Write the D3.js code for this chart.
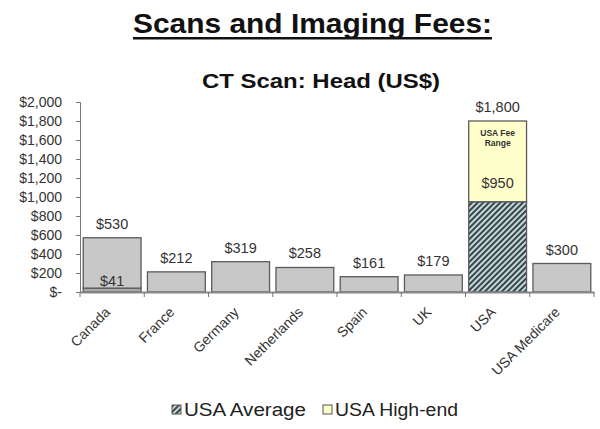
<!DOCTYPE html>
<html>
<head>
<meta charset="utf-8">
<script src="https://cdn.jsdelivr.net/npm/d3@7"></script>
<style>
  body { margin: 0; background: #fff; }
  svg { font-family: Arial, "Liberation Sans", sans-serif; }
</style>
</head>
<body>
<svg id="chart" width="600" height="429"></svg>
<script>
var categories = ["Canada", "France", "Germany", "Netherlands", "Spain", "UK", "USA", "USA Medicare"];
// lower segment of each bar
var baseValues = [41, 212, 319, 258, 161, 179, 950, 300];
// segment stacked on top (Canada range, USA high-end)
var upperValues = [530, 0, 0, 0, 0, 0, 850, 0];
// number printed above each bar
var topLabels = [530, 212, 319, 258, 161, 179, 1800, 300];
var yTicks = [0, 200, 400, 600, 800, 1000, 1200, 1400, 1600, 1800, 2000];
var legendNames = ["USA Average", "USA High-end"];

var svg = d3.select("#chart");

var x = d3.scaleBand()
    .domain(categories)
    .range([80, 594])
    .paddingInner(0.1)
    .paddingOuter(0.05);

var y = d3.scaleLinear()
    .domain([0, 2000])
    .range([292, 102]);

var money = function(v) { return v === 0 ? "$-" : "$" + d3.format(",")(v); };

// hatch pattern for USA average
var defs = svg.append("defs");
var pat = defs.append("pattern")
    .attr("id", "hatch")
    .attr("patternUnits", "userSpaceOnUse")
    .attr("width", 4).attr("height", 4)
    .attr("patternTransform", "rotate(45)");
pat.append("rect").attr("width", 4).attr("height", 4).attr("fill", "#c9d6d6");
pat.append("rect").attr("width", 2).attr("height", 4).attr("fill", "#34474d");

// titles (source image is a bit stretched sideways, so fix the text width)
svg.append("text")
    .attr("x", 133).attr("y", 33)
    .attr("font-size", 28).attr("font-weight", "bold")
    .attr("textLength", 359).attr("lengthAdjust", "spacingAndGlyphs")
    .attr("fill", "#111")
    .text("Scans and Imaging Fees:");
svg.append("rect")
    .attr("x", 133).attr("y", 37).attr("width", 359).attr("height", 2.5)
    .attr("fill", "#111");

svg.append("text")
    .attr("x", 202).attr("y", 88)
    .attr("font-size", 20).attr("font-weight", "bold")
    .attr("textLength", 238).attr("lengthAdjust", "spacingAndGlyphs")
    .attr("fill", "#111")
    .text("CT Scan: Head (US$)");

// y axis
var yAxis = svg.append("g")
    .attr("transform", "translate(80,0)")
    .call(d3.axisLeft(y).tickValues(yTicks).tickFormat(money).tickSize(4).tickPadding(14));
yAxis.select(".domain").attr("stroke", "#777");
yAxis.selectAll(".tick line").attr("stroke", "#777");
yAxis.selectAll(".tick text")
    .attr("font-size", 14).attr("fill", "#333")
    .attr("font-family", "Arial, 'Liberation Sans', sans-serif");

// bars
var idx = d3.range(categories.length);

svg.append("g").selectAll("rect")
    .data(idx)
    .join("rect")
    .attr("x", function(i) { return x(categories[i]); })
    .attr("width", x.bandwidth())
    .attr("y", function(i) { return y(baseValues[i]); })
    .attr("height", function(i) { return y(0) - y(baseValues[i]); })
    .attr("fill", function(i) {
        if (categories[i] === "USA") return "url(#hatch)";
        if (upperValues[i] > 0) return "#a9a9a9";
        return "#c8c8c8";
    })
    .attr("stroke", "#5a5a5a").attr("stroke-width", 1.3);

svg.append("g").selectAll("rect")
    .data(idx.filter(function(i) { return upperValues[i] > 0; }))
    .join("rect")
    .attr("x", function(i) { return x(categories[i]); })
    .attr("width", x.bandwidth())
    .attr("y", function(i) { return y(baseValues[i] + upperValues[i]); })
    .attr("height", function(i) { return y(baseValues[i]) - y(baseValues[i] + upperValues[i]); })
    .attr("fill", function(i) { return categories[i] === "USA" ? "#ffffcc" : "#c8c8c8"; })
    .attr("stroke", "#5a5a5a").attr("stroke-width", 1.3);

// x axis
var xAxis = svg.append("g")
    .attr("transform", "translate(0,292)")
    .call(d3.axisBottom(x).tickSize(0).tickFormat(""));
xAxis.select(".domain").attr("stroke", "#888").attr("stroke-width", 2);
svg.append("g").selectAll("line")
    .data(d3.range(categories.length + 1))
    .join("line")
    .attr("x1", function(i) { return x.range()[0] + i * x.step(); })
    .attr("x2", function(i) { return x.range()[0] + i * x.step(); })
    .attr("y1", 292).attr("y2", 297)
    .attr("stroke", "#777");

svg.append("g").selectAll("text")
    .data(categories)
    .join("text")
    .attr("transform", function(d) {
        return "translate(" + (x(d) + x.bandwidth() / 2 - 1) + ",313) rotate(-45)";
    })
    .attr("text-anchor", "end")
    .attr("font-size", 14).attr("fill", "#333")
    .text(function(d) { return d; });

// value labels
svg.append("g").selectAll("text")
    .data(idx)
    .join("text")
    .attr("x", function(i) { return x(categories[i]) + x.bandwidth() / 2; })
    .attr("y", function(i) { return y(baseValues[i] + upperValues[i]) - 9; })
    .attr("text-anchor", "middle")
    .attr("font-size", 14.5).attr("fill", "#333")
    .text(function(i) { return money(topLabels[i]); });

// inner labels
var cx = function(name) { return x(name) + x.bandwidth() / 2; };
var canadaIdx = categories.indexOf("Canada");
var usaIdx = categories.indexOf("USA");

svg.append("text")
    .attr("x", cx("Canada")).attr("y", y(baseValues[canadaIdx]) - 2)
    .attr("text-anchor", "middle")
    .attr("font-size", 14.5).attr("fill", "#333")
    .text(money(baseValues[canadaIdx]));

svg.append("text")
    .attr("x", cx("USA")).attr("y", y(baseValues[usaIdx]) - 14)
    .attr("text-anchor", "middle")
    .attr("font-size", 14.5).attr("fill", "#333")
    .text(money(baseValues[usaIdx]));

svg.append("text")
    .attr("x", cx("USA")).attr("y", y(baseValues[usaIdx] + upperValues[usaIdx]) + 15)
    .attr("text-anchor", "middle")
    .attr("font-size", 8.5).attr("font-weight", "bold").attr("fill", "#333")
    .text("USA Fee");
svg.append("text")
    .attr("x", cx("USA")).attr("y", y(baseValues[usaIdx] + upperValues[usaIdx]) + 25)
    .attr("text-anchor", "middle")
    .attr("font-size", 8.5).attr("font-weight", "bold").attr("fill", "#333")
    .text("Range");

// legend
var legendX = [172, 323];
var legendLen = [122, 123];
var legendFill = ["url(#hatch)", "#ffffcc"];
var lg = svg.append("g").selectAll("g")
    .data(legendNames)
    .join("g")
    .attr("transform", function(d, i) { return "translate(" + legendX[i] + ",405)"; });
lg.append("rect")
    .attr("width", 9).attr("height", 9)
    .attr("fill", function(d, i) { return legendFill[i]; })
    .attr("stroke", "#555").attr("stroke-width", 1);
lg.append("text")
    .attr("x", 12).attr("y", 11)
    .attr("font-size", 18).attr("fill", "#222")
    .attr("textLength", function(d, i) { return legendLen[i]; })
    .attr("lengthAdjust", "spacingAndGlyphs")
    .text(function(d) { return d; });
</script>
</body>
</html>
